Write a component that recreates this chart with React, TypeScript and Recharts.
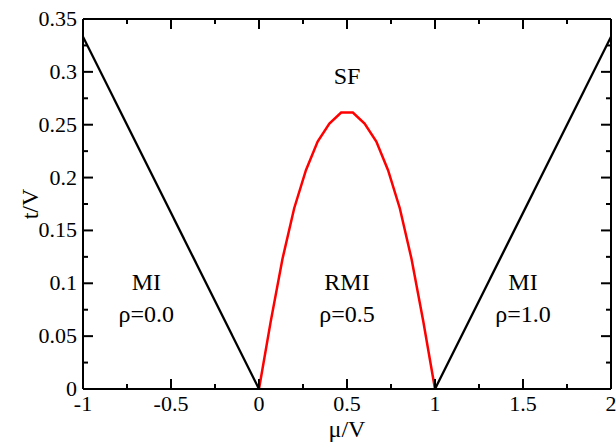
import { LineChart, Line, XAxis, YAxis, ReferenceDot } from 'recharts'

// chemical potential axis
const MU_MAJOR = [-1, -0.5, 0, 0.5, 1, 1.5, 2]
const MU_MINOR = [-0.75, -0.25, 0.25, 0.75, 1.25, 1.75]
// hopping axis
const T_MAJOR = [0, 0.05, 0.1, 0.15, 0.2, 0.25, 0.3, 0.35]
const T_MINOR = [0.025, 0.075, 0.125, 0.175, 0.225, 0.275, 0.325]

// Mott lobes (rho = 0 and rho = 1) boundaries
const MI0_MU = [-1, 0]
const MI0_T = [0.3333, 0]
const MI1_MU = [1, 2]
const MI1_T = [0, 0.3333]

// RMI lobe at half filling
const RMI_MU = [0, 0.0667, 0.1333, 0.2, 0.2667, 0.3333, 0.4, 0.4667, 0.5333, 0.6, 0.6667, 0.7333, 0.8, 0.8667, 0.9333, 1]
const RMI_T = [0, 0.064, 0.123, 0.171, 0.207, 0.234, 0.251, 0.2615, 0.2615, 0.251, 0.234, 0.207, 0.171, 0.123, 0.064, 0]

// phase labels
const LABEL_MU = [0.5, -0.64, -0.64, 0.5, 0.5, 1.5, 1.5]
const LABEL_T = [0.297, 0.102, 0.071, 0.102, 0.071, 0.102, 0.071]
const LABEL_TEXT = ['SF', 'MI', 'ρ=0.0', 'RMI', 'ρ=0.5', 'MI', 'ρ=1.0']

const toPoints = (mu: number[], t: number[]) => mu.map((m, i) => ({ mu: m, t: t[i] }))

const mi0 = toPoints(MI0_MU, MI0_T)
const mi1 = toPoints(MI1_MU, MI1_T)
const rmi = toPoints(RMI_MU, RMI_T)

const FONT = '"Liberation Serif", "Times New Roman", serif'
const FS = 22
const LABEL_FS = 24
const MAJOR_LEN = 10
const MINOR_LEN = 5

const isMajor = (v: number, list: number[]) => list.some(m => Math.abs(m - v) < 1e-9)
const fmt = (v: number) => String(Math.round(v * 1000) / 1000)

const sortTicks = (a: number[], b: number[]) => [...a, ...b].sort((p, q) => p - q)

// inward ticks, labels only on the major ones
function BottomTick(props: any) {
  const { x, y, payload } = props
  const major = isMajor(payload.value, MU_MAJOR)
  return (
    <g>
      <line x1={x} x2={x} y1={y} y2={y - (major ? MAJOR_LEN : MINOR_LEN)} stroke="#000" strokeWidth={2} />
      {major && (
        <text x={x} y={y + 22} textAnchor="middle" fontSize={FS} fontFamily={FONT} fill="#000">
          {fmt(payload.value)}
        </text>
      )}
    </g>
  )
}

function TopTick(props: any) {
  const { x, y, payload } = props
  const major = isMajor(payload.value, MU_MAJOR)
  return <line x1={x} x2={x} y1={y} y2={y + (major ? MAJOR_LEN : MINOR_LEN)} stroke="#000" strokeWidth={2} />
}

function LeftTick(props: any) {
  const { x, y, payload } = props
  const major = isMajor(payload.value, T_MAJOR)
  return (
    <g>
      <line x1={x} x2={x + (major ? MAJOR_LEN : MINOR_LEN)} y1={y} y2={y} stroke="#000" strokeWidth={2} />
      {major && (
        <text x={x - 6} y={y + 7} textAnchor="end" fontSize={FS} fontFamily={FONT} fill="#000">
          {fmt(payload.value)}
        </text>
      )}
    </g>
  )
}

function RightTick(props: any) {
  const { x, y, payload } = props
  const major = isMajor(payload.value, T_MAJOR)
  return <line x1={x} x2={x - (major ? MAJOR_LEN : MINOR_LEN)} y1={y} y2={y} stroke="#000" strokeWidth={2} />
}

export default function App() {
  const muTicks = sortTicks(MU_MAJOR, MU_MINOR)
  const tTicks = sortTicks(T_MAJOR, T_MINOR)
  const axisLine = { stroke: '#000', strokeWidth: 2 }

  return (
    <div style={{ position: 'absolute', left: 0, top: 0, background: '#fff' }}>
      <LineChart width={616} height={443} margin={{ top: 0, right: 0, bottom: 0, left: 0 }}>
        <XAxis
          xAxisId="bottom"
          dataKey="mu"
          type="number"
          domain={[-1, 2]}
          ticks={muTicks}
          interval={0}
          height={54}
          tickSize={0}
          tickMargin={0}
          tickLine={false}
          axisLine={axisLine}
          tick={<BottomTick />}
          allowDataOverflow
          label={{ value: 'μ/V', position: 'insideBottom', offset: 6, fontSize: LABEL_FS, fontFamily: FONT, fill: '#000' }}
        />
        <XAxis
          xAxisId="top"
          orientation="top"
          dataKey="mu"
          type="number"
          domain={[-1, 2]}
          ticks={muTicks}
          interval={0}
          height={19}
          tickSize={0}
          tickMargin={0}
          tickLine={false}
          axisLine={axisLine}
          tick={<TopTick />}
          allowDataOverflow
        />
        <YAxis
          yAxisId="left"
          type="number"
          domain={[0, 0.35]}
          ticks={tTicks}
          interval={0}
          width={83}
          tickSize={0}
          tickMargin={0}
          tickLine={false}
          axisLine={axisLine}
          tick={<LeftTick />}
          allowDataOverflow
          label={{
            value: 't/V',
            angle: -90,
            position: 'insideLeft',
            offset: 29,
            textAnchor: 'middle',
            fontSize: LABEL_FS,
            fontFamily: FONT,
            fill: '#000',
          }}
        />
        <YAxis
          yAxisId="right"
          orientation="right"
          type="number"
          domain={[0, 0.35]}
          ticks={tTicks}
          interval={0}
          width={5}
          tickSize={0}
          tickMargin={0}
          tickLine={false}
          axisLine={axisLine}
          tick={<RightTick />}
          allowDataOverflow
        />

        <Line xAxisId="bottom" yAxisId="left" data={mi0} dataKey="t" type="linear" stroke="#000" strokeWidth={2.3} dot={false} isAnimationActive={false} />
        <Line xAxisId="bottom" yAxisId="left" data={mi1} dataKey="t" type="linear" stroke="#000" strokeWidth={2.3} dot={false} isAnimationActive={false} />
        <Line xAxisId="bottom" yAxisId="left" data={rmi} dataKey="t" type="linear" stroke="#ff0000" strokeWidth={2.5} dot={false} isAnimationActive={false} />

        {LABEL_TEXT.map((txt, i) => (
          <ReferenceDot
            key={i}
            xAxisId="bottom"
            yAxisId="left"
            x={LABEL_MU[i]}
            y={LABEL_T[i]}
            r={1}
            fill="none"
            stroke="none"
            label={{ value: txt, position: 'center', fontSize: LABEL_FS, fontFamily: FONT, fill: '#000' }}
          />
        ))}
      </LineChart>
    </div>
  )
}
